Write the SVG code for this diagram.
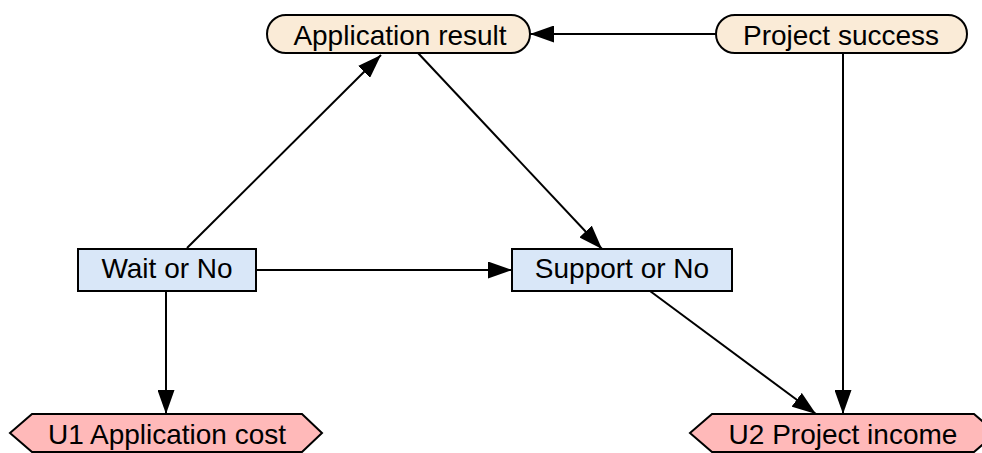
<svg xmlns="http://www.w3.org/2000/svg" width="982" height="453" viewBox="0 0 982 453">
  <style>
    .chance { fill: #FAEBD7; stroke: #000; stroke-width: 2; }
    .decision { fill: #D9E7F8; stroke: #000; stroke-width: 2; }
    .utility { fill: #FFB9B9; stroke: #000; stroke-width: 2; }
    .label { font-family: "Liberation Sans", Arial, sans-serif; font-size: 28px; fill: #000; text-anchor: middle; }
    .edge { fill: none; stroke: #000; stroke-width: 2; marker-end: url(#arrow); }
  </style>
  <defs>
    <marker id="arrow" markerUnits="userSpaceOnUse" markerWidth="24" markerHeight="17" refX="24" refY="8.5" orient="auto">
      <path d="M0,0 L24,8.5 L0,17 z" fill="#000"/>
    </marker>
  </defs>
  <rect width="982" height="453" fill="#fff"/>

  <g id="edges">
    <line class="edge" x1="716" y1="34" x2="530" y2="34"/>
    <line class="edge" x1="187" y1="248" x2="381" y2="55"/>
    <line class="edge" x1="418" y1="53" x2="602" y2="249"/>
    <line class="edge" x1="256" y1="270" x2="512" y2="270"/>
    <line class="edge" x1="166" y1="291" x2="166" y2="414"/>
    <line class="edge" x1="650" y1="291" x2="816" y2="414"/>
    <line class="edge" x1="843" y1="53" x2="843" y2="414"/>
  </g>

  <g id="application-result">
    <rect class="chance" x="267" y="15" width="263" height="38" rx="19" ry="19"/>
    <text class="label" x="400" y="45">Application result</text>
  </g>

  <g id="project-success">
    <rect class="chance" x="716" y="15" width="251" height="38" rx="19" ry="19"/>
    <text class="label" x="841" y="45">Project success</text>
  </g>

  <g id="wait-or-no">
    <rect class="decision" x="78" y="249" width="178" height="42"/>
    <text class="label" x="167" y="278">Wait or No</text>
  </g>

  <g id="support-or-no">
    <rect class="decision" x="512" y="249" width="220" height="42"/>
    <text class="label" x="622" y="278">Support or No</text>
  </g>

  <g id="u1-application-cost">
    <polygon class="utility" points="32,414 302,414 322,433 302,452 32,452 10,433"/>
    <text class="label" x="167" y="444">U1 Application cost</text>
  </g>

  <g id="u2-project-income">
    <polygon class="utility" points="712,414 974,414 996,433 974,452 712,452 690,433"/>
    <text class="label" x="843" y="444">U2 Project income</text>
  </g>
</svg>
